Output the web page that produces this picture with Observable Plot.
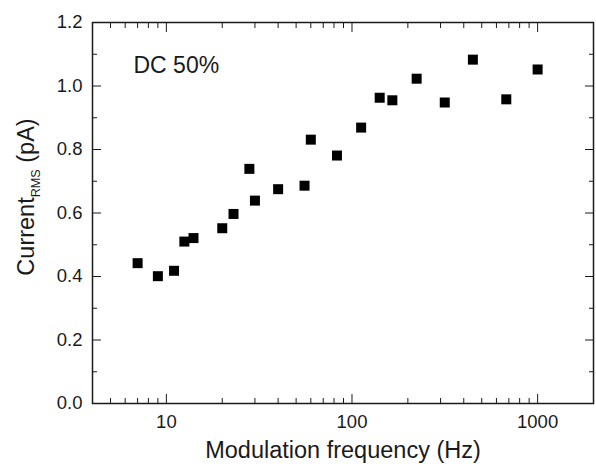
<!DOCTYPE html>
<html><head><meta charset="utf-8">
<script src="https://cdn.jsdelivr.net/npm/d3@7"></script>
<script src="https://cdn.jsdelivr.net/npm/@observablehq/plot@0.6"></script>
<style>body{margin:0;background:#fff} #chart svg{display:block}</style>
</head><body><div id="chart"></div>
<script>
const frequencyHz = [7, 9, 11, 12.5, 14, 20, 23, 28, 30, 40, 55.5, 60, 83, 112, 141, 165, 223, 316, 448, 678, 1000];
const currentPA   = [0.442, 0.401, 0.418, 0.510, 0.521, 0.552, 0.597, 0.739, 0.639, 0.675, 0.686, 0.831, 0.781, 0.869, 0.963, 0.955, 1.023, 0.948, 1.083, 0.958, 1.052];
const xMajorTicks = [10, 100, 1000];
const xMinorTicks = [5, 6, 7, 8, 9, 20, 30, 40, 50, 60, 70, 80, 90, 200, 300, 400, 500, 600, 700, 800, 900];
const yMajorTicks = [0, 0.2, 0.4, 0.6, 0.8, 1.0, 1.2];
const yMinorTicks = [0.1, 0.3, 0.5, 0.7, 0.9, 1.1];
const annotation = "DC 50%";
const xTitle = "Modulation frequency (Hz)";
const yTitleMain = "Current", yTitleSub = "RMS", yTitleUnit = " (pA)";

const data = frequencyHz.map((f, i) => ({f, c: currentPA[i]}));
const ink = "#1a1a1a";
const tickOnly = {fill: "none", label: null, stroke: ink, strokeWidth: 1};
const yFull = yTitleMain + yTitleSub + yTitleUnit;

const chart = Plot.plot({
  width: 596, height: 464,
  marginLeft: 92, marginTop: 22, marginRight: 3, marginBottom: 61,
  style: {fontFamily: "'Liberation Sans', Arial, sans-serif", color: ink, background: "#fff"},
  x: {type: "log", domain: [4, 2000]},
  y: {domain: [0, 1.2]},
  marks: [
    Plot.axisX({ticks: xMajorTicks, anchor: "bottom", tickSize: -9, ...tickOnly}),
    Plot.axisX({ticks: xMinorTicks, anchor: "bottom", tickSize: -5, ...tickOnly}),
    Plot.axisX({ticks: xMajorTicks, anchor: "top", tickSize: -9, ...tickOnly}),
    Plot.axisX({ticks: xMinorTicks, anchor: "top", tickSize: -5, ...tickOnly}),
    Plot.axisX({ticks: xMajorTicks, anchor: "bottom", tickSize: 0, tickPadding: 11, fontSize: 18.5, label: null, fill: ink, tickFormat: d => String(d)}),
    Plot.axisY({ticks: yMajorTicks, anchor: "left", tickSize: -9, ...tickOnly}),
    Plot.axisY({ticks: yMinorTicks, anchor: "left", tickSize: -5, ...tickOnly}),
    Plot.axisY({ticks: yMajorTicks, anchor: "right", tickSize: -9, ...tickOnly}),
    Plot.axisY({ticks: yMinorTicks, anchor: "right", tickSize: -5, ...tickOnly}),
    Plot.axisY({ticks: yMajorTicks, anchor: "left", tickSize: 0, tickPadding: 10, fontSize: 18.5, label: null, fill: ink, tickFormat: d3.format(".1f")}),
    Plot.frame({stroke: ink, strokeWidth: 1.5}),
    Plot.dot(data, {x: "f", y: "c", symbol: "square", r: 5.64, fill: "#000", stroke: "none"}),
    Plot.text([annotation], {text: d => d, frameAnchor: "top-left", dx: 41, dy: 43, textAnchor: "start", lineAnchor: "middle", fontSize: 23, fill: ink}),
    Plot.text([xTitle], {text: d => d, frameAnchor: "bottom", dy: 46.5, textAnchor: "middle", lineAnchor: "middle", fontSize: 23.5, fill: ink}),
    Plot.text([yFull], {text: d => d, frameAnchor: "left", rotate: -90, dx: -66.5, dy: -16, textAnchor: "middle", lineAnchor: "middle", fontSize: 23.5, fill: ink})
  ]
});

d3.select(chart).selectAll("text").filter(function() { return this.textContent === yFull; }).each(function() {
  const t = d3.select(this);
  t.text(null);
  t.append("tspan").text(yTitleMain);
  t.append("tspan").attr("font-size", 12.6).attr("dy", 6).text(yTitleSub);
  t.append("tspan").attr("dy", -6).text(yTitleUnit);
});

document.getElementById("chart").appendChild(chart);
</script>
</body></html>
